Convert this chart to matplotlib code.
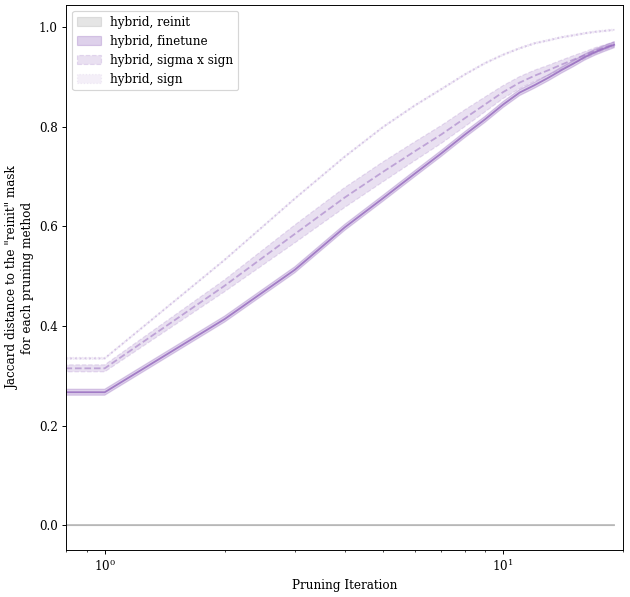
import numpy as np
import matplotlib
matplotlib.use("Agg")
import matplotlib.pyplot as plt

plt.rcParams['font.family'] = ['DejaVu Serif']

iterations = np.arange(20)

reinit_mean = [0.0] * 20
reinit_std = [0.0] * 20

finetune_mean = [0.267, 0.267, 0.414, 0.513, 0.598, 0.657, 0.706, 0.747, 0.784, 0.815,
                 0.845, 0.869, 0.884, 0.899, 0.914, 0.927, 0.940, 0.950, 0.958, 0.965]
finetune_std = [0.006] * 20

sigma_mean = [0.315, 0.315, 0.481, 0.585, 0.658, 0.710, 0.751, 0.785, 0.817, 0.845,
              0.870, 0.889, 0.903, 0.914, 0.925, 0.935, 0.944, 0.953, 0.960, 0.966]
sigma_std = [0.007, 0.007, 0.012, 0.018, 0.020, 0.020, 0.019, 0.018, 0.017, 0.015,
             0.013, 0.012, 0.011, 0.010, 0.009, 0.008, 0.007, 0.006, 0.005, 0.005]

sign_mean = [0.335, 0.335, 0.533, 0.656, 0.740, 0.800, 0.843, 0.876, 0.905, 0.928,
             0.945, 0.958, 0.968, 0.974, 0.980, 0.984, 0.988, 0.991, 0.993, 0.995]
sign_std = [0.002] * 20

labels = ['hybrid, reinit', 'hybrid, finetune', 'hybrid, sigma x sign', 'hybrid, sign']

DPI = 86
fig = plt.figure(figsize=(630 / DPI, 597 / DPI), dpi=DPI)
ax = fig.add_axes([0.105, 0.0787, 0.884, 0.913])
ax.set_xscale('log', nonpositive='clip')

series = [
    (reinit_mean, reinit_std, 'gray', '-', 0.5, 0.2),
    (finetune_mean, finetune_std, '#9467bd', '-', 0.8, 0.3),
    (sigma_mean, sigma_std, '#9467bd', '--', 0.5, 0.2),
    (sign_mean, sign_std, '#9467bd', ':', 0.3, 0.1),
]
for (m, s, c, ls, la, fa), lab in zip(series, labels):
    m = np.array(m)
    s = np.array(s)
    ax.plot(iterations, m, color=c, linestyle=ls, alpha=la, linewidth=1.5)
    ax.fill_between(iterations, m - s, m + s, color=c, alpha=fa, linestyle=ls, label=lab)

ax.set_xlim(0.8, 20)
ax.set_ylim(-0.05, 1.045)
ax.set_yticks([0.0, 0.2, 0.4, 0.6, 0.8, 1.0])
ax.tick_params(labelsize=10)
ax.set_xlabel('Pruning Iteration', fontsize=10)
ax.set_ylabel('Jaccard distance to the "reinit" mask\nfor each pruning method', fontsize=10)
ax.legend(loc='upper left', fontsize=10)

fig.savefig('out.png', dpi=DPI)
